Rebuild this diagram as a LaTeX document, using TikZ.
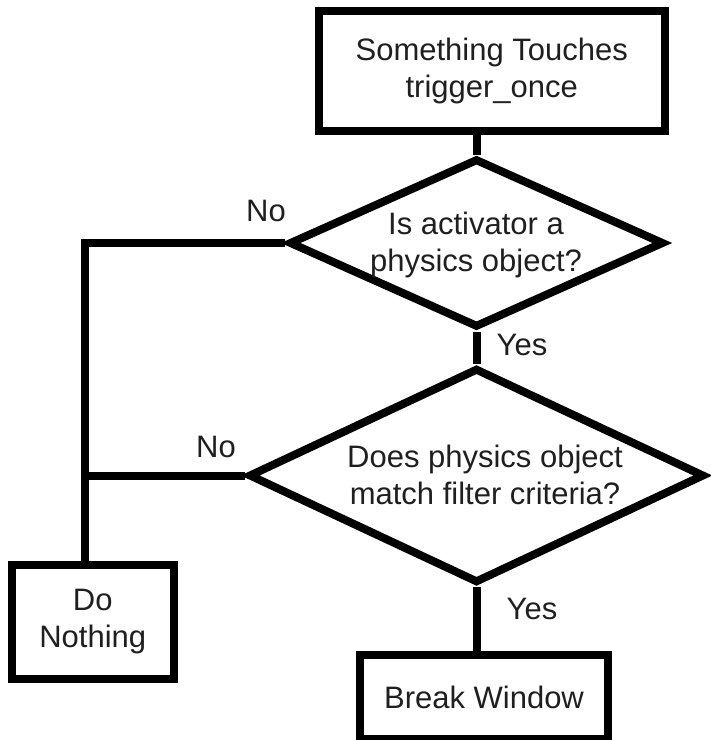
\documentclass[tikz,border=0pt]{standalone}
\usepackage{fontspec}
\setmainfont{Liberation Sans}
\usetikzlibrary{shapes.geometric}
\begin{document}
\begin{tikzpicture}[x=1pt,y=-1pt,
  lw/.style={line width=8pt},
  txt/.style={font=\fontsize{31}{37}\selectfont, text=black!88, align=center, inner sep=0pt},
  procbox/.style={draw, lw, rectangle, txt},
  decision/.style={draw, lw, diamond, inner sep=0pt},
  lbl/.style={font=\fontsize{31}{37}\selectfont, text=black!88, inner sep=0pt},
  conn/.style={draw, lw}
]
\useasboundingbox (0,0) rectangle (711,740);
% boxes
\node[procbox, minimum width=345.5pt, minimum height=120pt] (tb) at (491.75,71) {Something Touches\\trigger\_once};
\node[procbox, minimum width=162.5pt, minimum height=113.5pt] (dn) at (92.75,622) {Do\\Nothing};
\node[procbox, minimum width=248.5pt, minimum height=83.5pt] (bw) at (484,697) {Break Window};
% decisions
\node[decision, minimum width=375pt, minimum height=169pt] (d1) at (476.5,243) {};
\node[txt] (t1) at (476,245) {Is activator a\\physics object?};
\node[decision, minimum width=456pt, minimum height=215pt] (d2) at (476.5,475.5) {};
\node[txt] (t2) at (485,475) {Does physics object\\match filter criteria?};
% connectors
\coordinate (corner) at (84.5,246);
\draw[conn] (d1.north |- tb.south) -- (d1.north);
\draw[conn] (d1.south) -- (d2.north);
\draw[conn] (d2.south) -- (d2.south |- bw.north);
\draw[conn] (d1.west) -- (d1.west -| corner) -- (corner |- dn.north);
\draw[conn] (d2.west) -- (d2.west -| corner);
% labels
\node[lbl] (no1) at (266,211) {No};
\node[lbl] (no2) at (216,447) {No};
\node[lbl] (yes1) at (522,345) {Yes};
\node[lbl] (yes2) at (532,609) {Yes};
\end{tikzpicture}
\end{document}
